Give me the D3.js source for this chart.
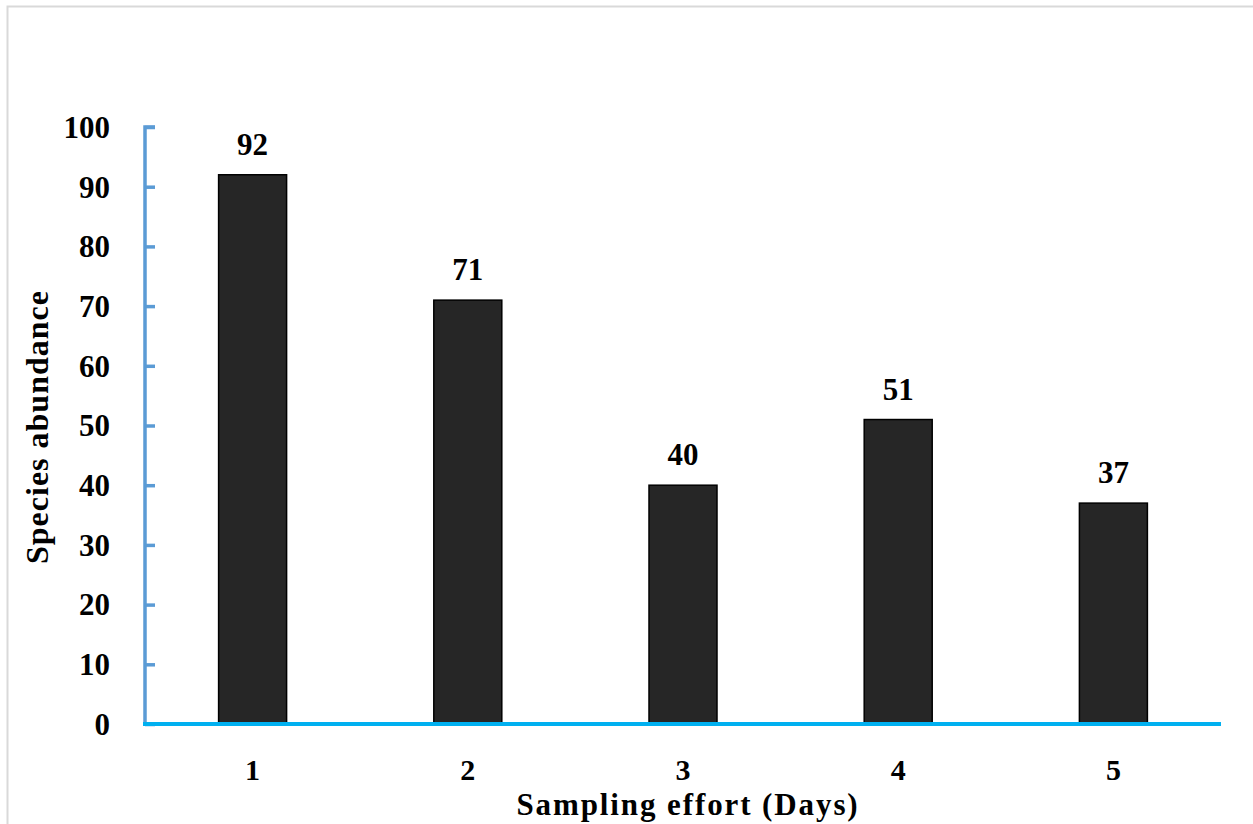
<!DOCTYPE html>
<html>
<head>
<meta charset="utf-8">
<script src="https://cdn.jsdelivr.net/npm/d3@7"></script>
<style>
  body { margin: 0; background: #fff; }
  text { font-family: "Liberation Serif", "DejaVu Serif", serif; font-weight: bold; fill: #000; }
</style>
</head>
<body>
<div id="chart"></div>
<script>
const days = ["1", "2", "3", "4", "5"];
const abundance = [92, 71, 40, 51, 37];
const yTicks = [0, 10, 20, 30, 40, 50, 60, 70, 80, 90, 100];

const W = 1253, H = 824;
let margin = {top: 127, right: 32, bottom: 100, left: 145};
let width = W - margin.left - margin.right;
let height = H - margin.top - margin.bottom;

let svg = d3.select("#chart").append("svg")
    .attr("width", W)
    .attr("height", H);

// light frame around the figure
svg.append("rect")
    .attr("x", 7.5).attr("y", 6.5)
    .attr("width", W + 20).attr("height", H + 20)
    .attr("fill", "none")
    .attr("stroke", "#d9d9d9")
    .attr("stroke-width", 2);

let g = svg.append("g")
    .attr("transform", "translate(" + margin.left + "," + margin.top + ")");

let xScale = d3.scaleBand().domain(days).range([0, width]).paddingInner(0.684).paddingOuter(0.342);
let yScale = d3.scaleLinear().domain([0, 100]).range([height, 0]);

// y axis: ticks point inward
let yAxis = g.append("g")
    .call(d3.axisRight(yScale).tickValues(yTicks).tickSize(10).tickFormat(""));
yAxis.select(".domain").attr("stroke", "#5b9bd5").attr("stroke-width", 3.5)
    .attr("d", "M10,0H0V" + height);
yAxis.selectAll(".tick line").attr("stroke", "#5b9bd5").attr("stroke-width", 3.5);

g.selectAll(".ylab")
    .data(yTicks)
    .enter().append("text")
    .attr("class", "ylab")
    .attr("x", -35)
    .attr("y", (d) => yScale(d))
    .attr("dy", "0.35em")
    .attr("text-anchor", "end")
    .style("font-size", "31px")
    .text((d) => d);

// bars
g.selectAll(".bar")
    .data(abundance)
    .enter().append("rect")
    .attr("class", "bar")
    .attr("x", (d, i) => xScale(days[i]))
    .attr("y", (d) => yScale(d))
    .attr("width", xScale.bandwidth())
    .attr("height", (d) => height - yScale(d))
    .attr("fill", "#262626")
    .attr("stroke", "#000")
    .attr("stroke-width", 1.5);

// value labels
g.selectAll(".val")
    .data(abundance)
    .enter().append("text")
    .attr("class", "val")
    .attr("x", (d, i) => xScale(days[i]) + xScale.bandwidth() / 2)
    .attr("y", (d) => yScale(d) - 20)
    .attr("text-anchor", "middle")
    .style("font-size", "31px")
    .text((d) => d);

// x axis
let xAxis = g.append("g")
    .attr("transform", "translate(0," + height + ")")
    .call(d3.axisBottom(xScale).tickSize(0).tickPadding(0).tickFormat(""));
xAxis.select(".domain").attr("stroke", "#00b0f0").attr("stroke-width", 4)
    .attr("d", "M-2,0H" + width);

g.selectAll(".xlab")
    .data(days)
    .enter().append("text")
    .attr("class", "xlab")
    .attr("x", (d) => xScale(d) + xScale.bandwidth() / 2)
    .attr("y", height + 56)
    .attr("text-anchor", "middle")
    .style("font-size", "30px")
    .text((d) => d);

// axis titles
svg.append("text")
    .attr("x", 688)
    .attr("y", 815)
    .attr("text-anchor", "middle")
    .style("font-size", "31px")
    .style("letter-spacing", "1.9px")
    .text("Sampling effort (Days)");

svg.append("text")
    .attr("transform", "translate(48,427) rotate(-90)")
    .attr("text-anchor", "middle")
    .style("font-size", "32px")
    .style("letter-spacing", "1px")
    .text("Species abundance");
</script>
</body>
</html>
